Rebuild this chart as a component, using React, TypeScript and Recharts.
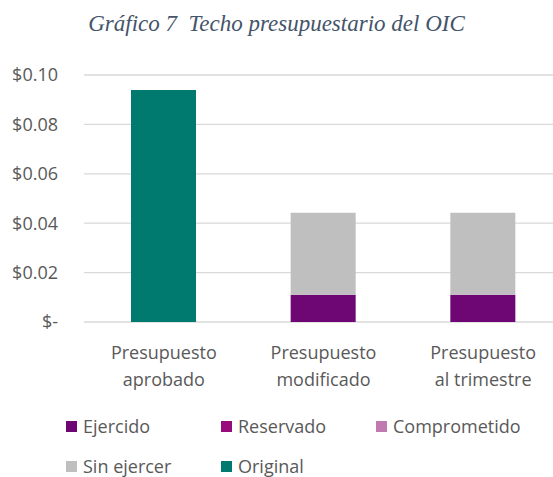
import { Bar, BarChart, CartesianGrid, XAxis, YAxis } from "recharts";

const categories = ["Presupuesto aprobado", "Presupuesto modificado", "Presupuesto al trimestre"];
const ejercido = [0, 0.011, 0.011];
const reservado = [0, 0, 0];
const comprometido = [0, 0, 0];
const sinEjercer = [0, 0.0332, 0.0332];
const original = [0.0939, 0, 0];
const yTicks = [0, 0.02, 0.04, 0.06, 0.08, 0.1];

const SERIES = [
  { key: "ejercido", name: "Ejercido", color: "#6E0673" },
  { key: "reservado", name: "Reservado", color: "#970B7C" },
  { key: "comprometido", name: "Comprometido", color: "#C07AB1" },
  { key: "sinEjercer", name: "Sin ejercer", color: "#BFBFBF" },
  { key: "original", name: "Original", color: "#007A6E" }
];

const FONT = "'Open Sans', sans-serif";
const TEXT = "#595959";

const data = categories.map((name, i) => ({
  name,
  ejercido: ejercido[i],
  reservado: reservado[i],
  comprometido: comprometido[i],
  sinEjercer: sinEjercer[i],
  original: original[i]
}));

function formatMoney(v: number) {
  return v === 0 ? "$-" : `$${v.toFixed(2)}`;
}

function CategoryTick({ x, y, payload }: any) {
  const label: string = payload.value;
  const idx = label.indexOf(" ");
  const first = label.slice(0, idx);
  const second = label.slice(idx + 1);
  return (
    <text x={x} y={y} textAnchor="middle" fill={TEXT} fontSize={18} fontFamily={FONT}>
      <tspan x={x} dy={37}>{first}</tspan>
      <tspan x={x} dy={27}>{second}</tspan>
    </text>
  );
}

export default function App() {
  const legendPos = [
    { left: 66, top: 426 },
    { left: 221, top: 426 },
    { left: 376, top: 426 },
    { left: 66, top: 466 },
    { left: 221, top: 466 }
  ];
  return (
    <div
      style={{
        position: "absolute",
        left: 0,
        top: 0,
        width: 553,
        height: 477,
        overflow: "hidden",
        background: "#fff"
      }}
    >
      <div
        style={{
          position: "absolute",
          top: 11,
          width: 553,
          textAlign: "center",
          fontFamily: "'Liberation Serif', serif",
          fontStyle: "italic",
          fontSize: 23,
          color: "#44546A"
        }}
      >
        Gráfico 7&nbsp; Techo presupuestario del OIC
      </div>
      <BarChart
        width={570}
        height={400}
        data={data}
        margin={{ top: 75, right: 7, left: 0, bottom: 18 }}
        barSize={65}
      >
        <CartesianGrid vertical={false} stroke="#D9D9D9" strokeWidth={1.3} />
        <YAxis
          width={84}
          domain={[0, 0.1]}
          ticks={yTicks}
          tickFormatter={formatMoney}
          axisLine={false}
          tickLine={false}
          tickSize={0}
          tickMargin={26}
          tick={{ fill: TEXT, fontSize: 18, fontFamily: FONT }}
        />
        <XAxis
          dataKey="name"
          height={60}
          axisLine={false}
          tickLine={false}
          tickSize={0}
          tickMargin={0}
          tick={<CategoryTick />}
        />
        {SERIES.map((s) => (
          <Bar
            key={s.key}
            dataKey={s.key}
            name={s.name}
            stackId="a"
            fill={s.color}
            isAnimationActive={false}
          />
        ))}
      </BarChart>
      {SERIES.map((s, i) => (
        <div
          key={s.key}
          style={{
            position: "absolute",
            left: legendPos[i].left,
            top: legendPos[i].top,
            transform: "translateY(-50%)",
            display: "flex",
            alignItems: "center",
            fontFamily: FONT,
            fontSize: 18,
            lineHeight: "24px",
            color: TEXT,
            whiteSpace: "nowrap"
          }}
        >
          <span style={{ width: 11, height: 11, background: s.color, marginRight: 6, display: "inline-block" }} />
          {s.name}
        </div>
      ))}
    </div>
  );
}
